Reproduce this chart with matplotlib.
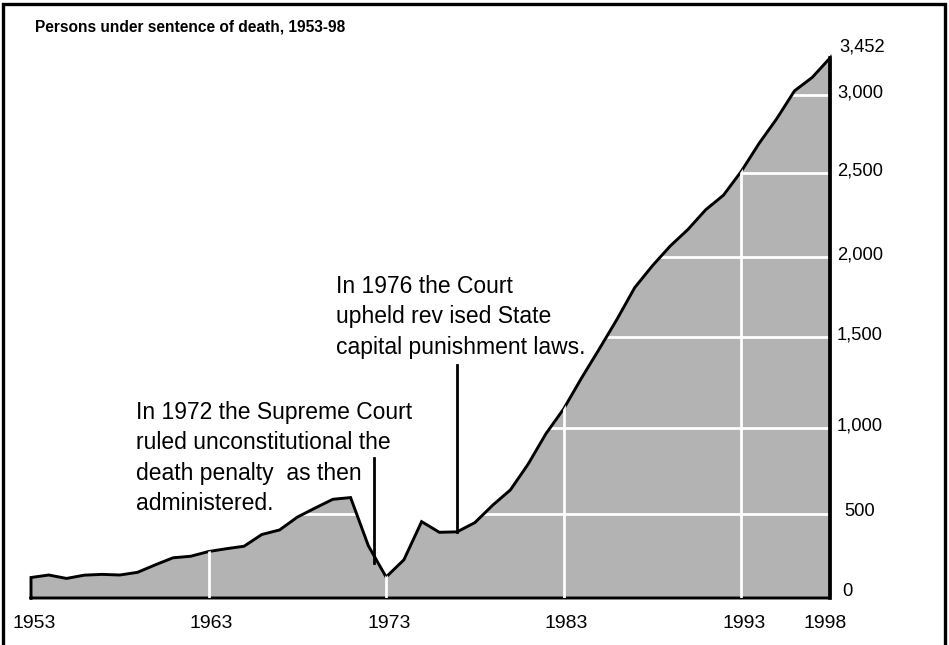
import matplotlib.pyplot as plt
from matplotlib.patches import Rectangle

# persons under sentence of death, year-end counts
years = list(range(1953, 1999))
persons = [131, 147, 125, 146, 151, 147, 164, 212, 257, 267,
           297, 315, 331, 406, 435, 517, 575, 631, 642, 334,
           134, 244, 488, 420, 423, 482, 593, 691, 856, 1050,
           1209, 1405, 1591, 1781, 1984, 2124, 2250, 2356, 2482, 2575,
           2727, 2905, 3064, 3242, 3328, 3452]

x_ticks = [1953, 1963, 1973, 1983, 1993, 1998]
grid_years = [1963, 1973, 1983, 1993]
# the white rules in the original sit a little off the round values
grid_levels = [537, 1089, 1669, 2180, 2719, 3216]
grid_labels = ['500', '1,000', '1,500', '2,000', '2,500', '3,000']

note_1972 = 'In 1972 the Supreme Court\nruled unconstitutional the\ndeath penalty  as then\nadministered.'
note_1976 = 'In 1976 the Court\nupheld rev ised State\ncapital punishment laws.'

plt.rcParams['font.family'] = ['Liberation Sans', 'DejaVu Sans']

W, H = 949, 645
fig = plt.figure(figsize=(W / 100, H / 100), dpi=100)
ax = fig.add_axes([31 / W, 47 / H, 799 / W, 540 / H])
ax.set_xlim(1953, 1998)
ax.set_ylim(0, 3452)
ax.axis('off')

# gray area
area = ax.fill_between(years, persons, color='#b3b3b3', linewidth=0, zorder=1)
clip = area.get_paths()[0]

# horizontal white rules, only inside the area
for yv in grid_levels:
    ln, = ax.plot([1953, 1998], [yv, yv], color='white', lw=2, zorder=2)
    ln.set_clip_path(clip, ax.transData)

# black outline
ax.plot([1953] + years + [1998, 1953], [0] + persons + [0, 0],
        color='black', lw=2.1, zorder=3, clip_on=False, solid_joinstyle='miter')
ax.plot([1998, 1998], [0, persons[-1]], color='black', lw=2.6, zorder=3, clip_on=False)

# vertical white rules cut through the outline
for xv in grid_years:
    ln, = ax.plot([xv, xv], [0, 3452], color='white', lw=2, zorder=4)
    ln.set_clip_path(clip, ax.transData)

# x labels
for yr in x_ticks:
    dx = -5 if yr == 1998 else 3
    ax.annotate(str(yr), xy=(yr, 0), xytext=(dx, -26), textcoords='offset pixels',
                ha='center', va='center', fontsize=14, annotation_clip=False)

# y labels on the right
for yv, lab in zip(grid_levels, grid_labels):
    ax.annotate(lab, xy=(1998, yv), xytext=(30, 2), textcoords='offset pixels',
                ha='center', va='center', fontsize=13.2, annotation_clip=False)
ax.annotate('3,452', xy=(1998, persons[-1]), xytext=(32, 11), textcoords='offset pixels',
            ha='center', va='center', fontsize=13.2, annotation_clip=False)
ax.annotate('0', xy=(1998, 0), xytext=(17, 6), textcoords='offset pixels',
            ha='center', va='center', fontsize=13.2, annotation_clip=False)

# annotations
ax.plot([1972.3, 1972.3], [224, 895], color='black', lw=2, zorder=5)
ax.plot([1977, 1977], [persons[years.index(1977)], 1490], color='black', lw=2, zorder=5)
fig.text(136 / W, 1 - 401 / H, note_1972, ha='left', va='top', fontsize=16.5, linespacing=1.41)
fig.text(336 / W, 1 - 275 / H, note_1976, ha='left', va='top', fontsize=16.5, linespacing=1.41)

fig.text(35 / W, 1 - 27 / H, 'Persons under sentence of death, 1953-98',
         ha='left', va='center', fontsize=11.2, fontweight='bold')

# frame round the whole picture
fig.patches.append(Rectangle((3 / W, -4 / H), 942 / W, 645 / H, transform=fig.transFigure,
                             fill=False, edgecolor='black', lw=2.4))

fig.savefig('out.png', dpi=100)
